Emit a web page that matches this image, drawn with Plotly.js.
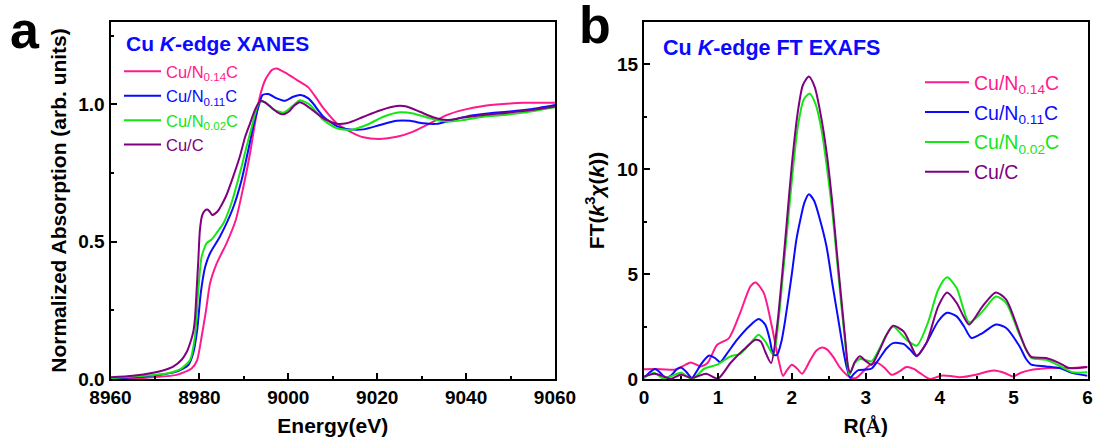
<!DOCTYPE html>
<html>
<head>
<meta charset="utf-8">
<script src="https://cdn.plot.ly/plotly-3.0.1.min.js"></script>
<style>html,body{margin:0;padding:0;background:#fff;}#chart{width:1096px;height:441px;}</style>
</head>
<body>
<div id="chart"></div>
<script>
// ---------- Panel a: Cu K-edge XANES ----------
const seriesNames = ["Cu/N<sub>0.14</sub>C", "Cu/N<sub>0.11</sub>C", "Cu/N<sub>0.02</sub>C", "Cu/C"];
const seriesColors = ["#ff1a8c", "#0a0aff", "#14e614", "#800080"];

const xanesE_N014 = [8960,8968,8974.9,8978.3,8979.5,8980.5,8981.5,8982.4,8983.9,8986.1,8988.2,8989.9,8991.4,8992.5,8993.6,8994.8,8996.3,8997.4,8999.6,9001.9,9004.5,9006,9007.9,9010.9,9013.9,9016.9,9020.6,9024.4,9028.1,9031.9,9035.6,9039.4,9043.9,9048.4,9052.9,9060];
const xanesA_N014 = [0.0,0.005,0.015,0.039,0.069,0.154,0.251,0.349,0.421,0.494,0.58,0.70,0.822,0.931,1.028,1.089,1.125,1.131,1.113,1.089,1.062,1.03,0.986,0.931,0.901,0.88,0.874,0.882,0.901,0.931,0.961,0.98,0.994,1.001,1.006,1.006];

const xanesE_N011 = [8960,8967,8974.9,8977.5,8978.6,8979.5,8980.3,8981.3,8982.4,8984.6,8987.5,8989.5,8991.0,8992.1,8993.3,8994.2,8995.5,8997.4,8999.3,9001.1,9002.8,9004.5,9005.5,9007.9,9010.9,9013.9,9016.9,9020.6,9024.4,9027.4,9030.4,9033.4,9036.4,9040.9,9045.4,9049.9,9054.4,9060];
const xanesA_N011 = [0.002,0.008,0.027,0.051,0.094,0.178,0.312,0.409,0.458,0.518,0.62,0.725,0.834,0.919,0.992,1.034,1.038,1.022,1.013,1.028,1.034,1.022,1.005,0.955,0.921,0.909,0.909,0.925,0.94,0.94,0.931,0.929,0.941,0.959,0.968,0.974,0.982,0.998];

const xanesE_N002 = [8960,8966,8972.6,8976,8977.9,8979.0,8979.75,8980.5,8981.6,8982.8,8984.0,8985.4,8987.2,8989.1,8990.6,8991.8,8992.9,8993.6,8994.8,8996.6,8998.9,9000.8,9002.6,9004.9,9007.9,9010.9,9013.9,9017.6,9021.4,9025.1,9028.1,9031.9,9035.6,9039.4,9043.9,9048.4,9052.9,9060];
const xanesA_N002 = [0.003,0.01,0.02,0.039,0.069,0.154,0.324,0.445,0.494,0.509,0.535,0.567,0.64,0.749,0.846,0.919,0.986,1.01,1.008,0.982,0.97,0.992,1.015,0.998,0.943,0.913,0.907,0.925,0.955,0.971,0.967,0.949,0.937,0.943,0.955,0.961,0.97,0.99];

const xanesE_CuC = [8960,8965,8969.6,8972,8974.1,8976,8977.2,8977.9,8978.6,8979.0,8979.4,8979.75,8980.1,8980.6,8981.2,8981.8,8982.3,8982.9,8983.6,8984.3,8985.2,8986.1,8987.6,8989.1,8990.3,8991.4,8992.5,8993.3,8993.9,8994.6,8995.5,8997.4,8998.5,8999.3,9000.4,9001.3,9002.6,9003.5,9004.9,9007.9,9010.9,9013.1,9016.9,9020.6,9024.4,9026.6,9029.6,9032.6,9035.6,9039.4,9043.9,9048.4,9052.9,9057.4,9060];
const xanesA_CuC = [0.006,0.012,0.023,0.032,0.045,0.07,0.10,0.13,0.17,0.22,0.33,0.43,0.54,0.595,0.613,0.617,0.61,0.597,0.603,0.615,0.64,0.67,0.737,0.81,0.882,0.931,0.98,1.005,1.013,1.008,0.998,0.973,0.964,0.966,0.978,0.995,1.008,1.002,0.986,0.949,0.929,0.931,0.955,0.978,0.994,0.992,0.973,0.953,0.943,0.952,0.961,0.968,0.976,0.986,0.992];

// ---------- Panel b: Cu K-edge FT EXAFS ----------
const exafsR_N014 = [0,0.23,0.41,0.52,0.63,0.77,0.86,0.99,1.15,1.30,1.44,1.51,1.62,1.73,1.82,1.88,1.93,2.0,2.07,2.14,2.25,2.33,2.41,2.48,2.56,2.65,2.74,2.81,2.87,2.95,3.05,3.15,3.25,3.35,3.45,3.55,3.65,3.73,3.87,4.02,4.15,4.27,4.49,4.62,4.74,4.87,4.99,5.1,5.21,5.48,5.75,6.0];
const exafsF_N014 = [0.47,0.47,0.44,0.6,0.79,0.6,0.76,1.63,1.95,3.14,4.41,4.6,4.1,2.5,0.92,0.15,0.4,0.68,0.5,0.25,0.9,1.35,1.5,1.4,1.05,0.55,0.2,0.05,0.05,0.3,0.65,0.78,0.55,0.2,0.35,0.57,0.48,0.29,0.0,0.16,0.14,0.08,0.2,0.33,0.41,0.3,0.12,0.3,0.41,0.52,0.52,0.57];

const exafsR_N011 = [0,0.07,0.15,0.22,0.29,0.36,0.44,0.5,0.57,0.65,0.71,0.77,0.88,0.96,1.03,1.12,1.26,1.42,1.55,1.64,1.70,1.75,1.80,1.86,1.91,2.0,2.06,2.11,2.17,2.23,2.30,2.38,2.47,2.55,2.63,2.70,2.74,2.79,2.84,2.9,3.0,3.08,3.19,3.28,3.37,3.51,3.6,3.69,3.82,3.98,4.10,4.23,4.33,4.43,4.58,4.76,4.90,5.08,5.17,5.24,5.44,5.62,5.8,6.0];
const exafsF_N011 = [0.05,0.3,0.48,0.3,0.05,0.15,0.45,0.55,0.35,0.05,0.35,0.7,1.12,1.0,0.8,1.2,1.87,2.5,2.86,2.59,1.9,1.16,1.15,1.8,2.8,5.0,6.6,7.5,8.4,8.8,8.5,7.6,6.3,4.5,2.8,1.3,0.6,0.05,0.25,0.42,0.45,0.5,1.0,1.45,1.71,1.67,1.4,1.08,1.71,2.75,3.15,2.98,2.5,1.95,2.19,2.59,2.43,1.56,0.95,0.68,0.6,0.52,0.28,0.16];

const exafsR_N002 = [0,0.07,0.14,0.27,0.36,0.5,0.65,0.82,1.0,1.17,1.30,1.44,1.55,1.64,1.75,1.82,1.88,1.94,2.01,2.08,2.16,2.24,2.32,2.40,2.47,2.55,2.61,2.67,2.72,2.76,2.78,2.85,2.92,3.0,3.08,3.19,3.28,3.37,3.55,3.69,3.84,3.98,4.10,4.23,4.40,4.58,4.76,4.90,5.08,5.24,5.44,5.62,5.8,6.0];
const exafsF_N002 = [0.05,0.2,0.3,0.0,0.12,0.3,0.0,0.5,0.7,1.08,1.2,1.71,2.11,1.79,1.16,2.8,5.0,7.2,9.8,12.0,13.3,13.6,13.1,11.9,10.2,7.9,5.7,3.5,1.8,0.5,0.2,0.75,0.95,0.9,0.84,1.48,2.1,2.5,1.87,1.59,2.67,4.25,4.84,4.33,2.7,3.22,3.93,3.62,2.11,1.0,0.92,0.63,0.32,0.32];

const exafsR_CuC = [0,0.14,0.27,0.36,0.5,0.65,0.84,1.0,1.17,1.35,1.51,1.58,1.64,1.72,1.80,1.87,1.93,2.0,2.08,2.15,2.23,2.31,2.39,2.47,2.55,2.61,2.67,2.72,2.76,2.79,2.85,2.92,3.0,3.08,3.19,3.28,3.37,3.51,3.6,3.69,3.82,3.98,4.10,4.23,4.32,4.40,4.58,4.76,4.90,5.08,5.17,5.24,5.44,5.62,5.75,6.0];
const exafsF_CuC = [0.12,0.25,0.12,0.0,0.2,0.05,0.25,0.02,0.76,1.4,1.87,1.79,1.3,0.76,2.5,5.0,7.4,10.2,12.7,14.0,14.4,13.9,12.6,10.8,8.3,6.0,3.8,2.0,0.6,0.3,0.8,1.08,0.85,0.68,1.4,2.1,2.54,2.27,1.7,1.11,1.71,3.46,4.12,3.62,3.0,2.59,3.46,4.12,3.78,2.19,1.4,1.05,1.0,0.76,0.52,0.57];

const xanesX = [xanesE_N014, xanesE_N011, xanesE_N002, xanesE_CuC];
const xanesY = [xanesA_N014, xanesA_N011, xanesA_N002, xanesA_CuC];
const exafsX = [exafsR_N014, exafsR_N011, exafsR_N002, exafsR_CuC];
const exafsY = [exafsF_N014, exafsF_N011, exafsF_N002, exafsF_CuC];

const FONT = "Liberation Sans, Arial, sans-serif";
const traces = [];
for (let i = 0; i < 4; i++) {
  traces.push({
    x: xanesX[i], y: xanesY[i], type: "scatter", mode: "lines",
    name: '<span style="color:' + seriesColors[i] + '">' + seriesNames[i] + '</span>',
    line: {color: seriesColors[i], width: 2, shape: "spline", smoothing: 0.6},
    xaxis: "x", yaxis: "y", legend: "legend"
  });
}
for (let i = 0; i < 4; i++) {
  traces.push({
    x: exafsX[i], y: exafsY[i], type: "scatter", mode: "lines",
    name: '<span style="color:' + seriesColors[i] + '">' + seriesNames[i] + '</span>',
    line: {color: seriesColors[i], width: 2, shape: "spline", smoothing: 0.7},
    xaxis: "x2", yaxis: "y2", legend: "legend2", legendgroup: "g" + i
  });
}

const tickFont = {family: FONT, size: 19, color: "#000", weight: "bold"};
const titleFont = {family: FONT, size: 21, color: "#000", weight: "bold"};
function axisBase(extra) {
  return Object.assign({
    showline: true, linewidth: 2, linecolor: "#000", mirror: true,
    ticks: "inside", ticklen: 6, tickwidth: 2, tickcolor: "#000",
    showgrid: false, zeroline: false, tickfont: tickFont
  }, extra);
}

const layout = {
  width: 1096, height: 441,
  margin: {l: 0, r: 0, t: 0, b: 0},
  paper_bgcolor: "#fff", plot_bgcolor: "#fff",
  showlegend: true,
  xaxis: axisBase({
    domain: [110.5/1096, 555/1096], range: [8960, 9060], dtick: 20, tick0: 8960,
    minor: {dtick: 10, ticks: "inside", ticklen: 3, tickwidth: 2, tickcolor: "#000"},
    title: {text: "Energy(eV)", font: titleFont, standoff: 12}, anchor: "y"
  }),
  yaxis: axisBase({
    domain: [1 - 379/441, 1 - 22/441], range: [0, 1.3], dtick: 0.5, tick0: 0, tickformat: ".1f",
    minor: {dtick: 0.25, ticks: "inside", ticklen: 3, tickwidth: 2, tickcolor: "#000"},
    title: {text: "Normalized Absorption (arb. units)", font: titleFont, standoff: 6}, anchor: "x"
  }),
  xaxis2: axisBase({
    domain: [644/1096, 1087.5/1096], range: [0, 6], dtick: 1, tick0: 0,
    minor: {dtick: 0.5, ticks: "inside", ticklen: 3, tickwidth: 2, tickcolor: "#000"},
    title: {text: 'R(<span style="font-family:Liberation Serif">Å</span>)', font: titleFont, standoff: 12}, anchor: "y2"
  }),
  yaxis2: axisBase({
    domain: [1 - 379/441, 1 - 22/441], range: [0, 17], dtick: 5, tick0: 0,
    minor: {dtick: 2.5, ticks: "inside", ticklen: 3, tickwidth: 2, tickcolor: "#000"},
    title: {text: "FT(<i>k</i><sup>3</sup><i>χ</i>(<i>k</i>))", font: titleFont, standoff: 7}, anchor: "x2"
  }),
  legend: {
    x: 119/1096, y: 1 - 54/441, xanchor: "left", yanchor: "top",
    bgcolor: "rgba(0,0,0,0)", borderwidth: 0, itemwidth: 37,
    font: {family: FONT, size: 16.5, color: "#000"}, tracegroupgap: 0
  },
  legend2: {
    x: 920/1096, y: 1 - 63/441, xanchor: "left", yanchor: "top",
    bgcolor: "rgba(0,0,0,0)", borderwidth: 0, itemwidth: 44, traceorder: "grouped",
    font: {family: FONT, size: 19.5, color: "#000"}, tracegroupgap: 1.5
  },
  annotations: [
    {text: "Cu <i>K</i>-edge XANES", xref: "paper", yref: "paper", x: 124/1096, y: 1 - 44/441,
     xanchor: "left", yanchor: "middle", showarrow: false,
     font: {family: FONT, size: 21, color: "#0a0aff", weight: "bold"}},
    {text: "Cu <i>K</i>-edge FT EXAFS", xref: "paper", yref: "paper", x: 661/1096, y: 1 - 48/441,
     xanchor: "left", yanchor: "middle", showarrow: false,
     font: {family: FONT, size: 21.5, color: "#0a0aff", weight: "bold"}},
    {text: "a", xref: "paper", yref: "paper", x: 8/1096, y: 1 - 30/441,
     xanchor: "left", yanchor: "middle", showarrow: false,
     font: {family: FONT, size: 52, color: "#000", weight: "bold"}},
    {text: "b", xref: "paper", yref: "paper", x: 577/1096, y: 1 - 25/441,
     xanchor: "left", yanchor: "middle", showarrow: false,
     font: {family: FONT, size: 52, color: "#000", weight: "bold"}}
  ]
};

Plotly.newPlot("chart", traces, layout, {staticPlot: true, displayModeBar: false});
</script>
</body>
</html>
